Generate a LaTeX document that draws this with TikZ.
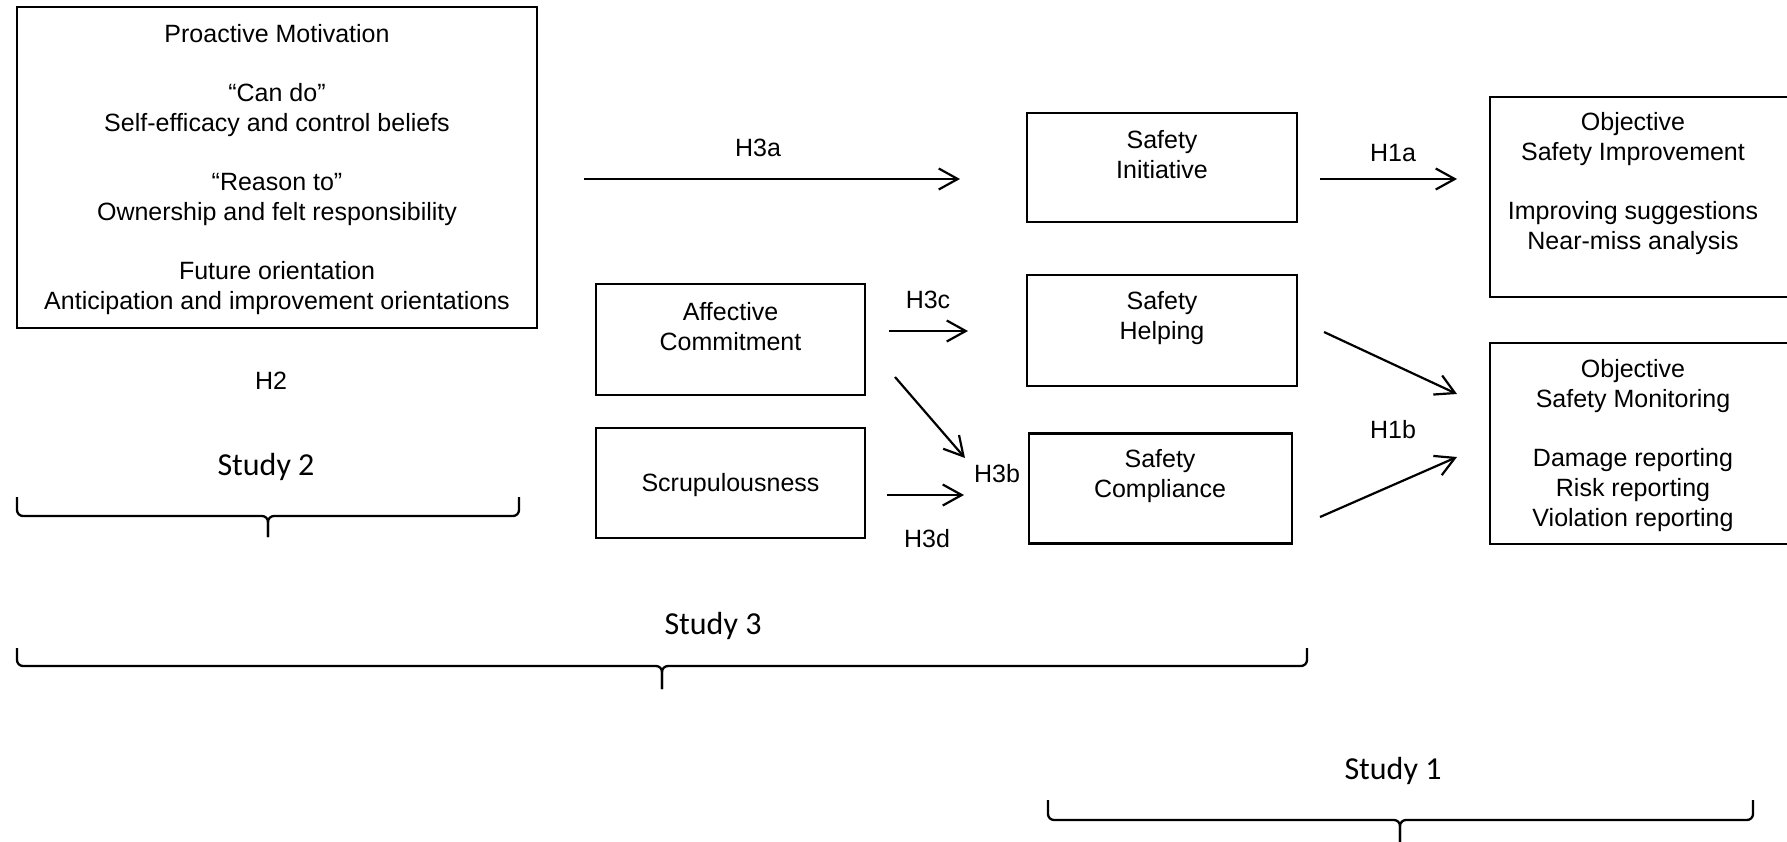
\documentclass[tikz,border=0pt]{standalone}
\usepackage{fontspec}
\setmainfont{Liberation Sans}
\newfontfamily\studyfont{Carlito}
\usetikzlibrary{arrows.meta}
\begin{document}
\begin{tikzpicture}[x=0.5pt,y=-0.5pt,
  box/.style={draw,line width=1.15pt,inner sep=0pt},
  txt/.style={align=center,inner sep=0pt,font=\fontsize{12.5}{15}\selectfont},
  lbl/.style={inner sep=0pt,font=\fontsize{12.5}{15}\selectfont},
  study/.style={inner sep=0pt,font=\studyfont\fontsize{16}{19}\selectfont},
  arr/.style={line width=1.1pt,-{Straight Barb[length=9.5pt,width=10.5pt,line width=1.1pt]}},
  brace/.style={line width=1.15pt,rounded corners=3pt}]
\clip (0,0) rectangle (1787,841);
% boxes
\node[box,minimum width=260pt,minimum height=160.5pt] (pm) at (277,167.5) {};
\node[box,minimum width=135pt,minimum height=54.5pt] (si) at (1162,167.5) {};
\node[box,minimum width=135pt,minimum height=55.5pt] (sh) at (1162,330.5) {};
\node[box,minimum width=131.5pt,minimum height=55pt] (sc) at (1160.5,488.5) {};
\node[box,minimum width=134.5pt,minimum height=55.5pt] (ac) at (730.5,339.5) {};
\node[box,minimum width=134.5pt,minimum height=55pt] (sq) at (730.5,483) {};
\node[box,minimum width=155pt,minimum height=100pt] (osi) at (1645,197) {};
\node[box,minimum width=155pt,minimum height=100.5pt] (osm) at (1645,443.5) {};
% texts
\node[txt] (pm-t) at (277,170) {Proactive Motivation\\[14.5pt]
  “Can do”\\ Self-efficacy and control beliefs\\[14.5pt]
  “Reason to”\\ Ownership and felt responsibility\\[14.5pt]
  Future orientation\\ Anticipation and improvement orientations};
\node[txt] (si-t) at (1162,155) {Safety\\ Initiative};
\node[txt] (sh-t) at (1162,318) {Safety\\ Helping};
\node[txt] (sc-t) at (1160,476) {Safety\\ Compliance};
\node[txt] (ac-t) at (730.5,327) {Affective\\ Commitment};
\node[txt] (sq-t) at (730.5,485) {Scrupulousness};
\node[txt] (osi-t) at (1633,184) {Objective\\ Safety Improvement\\[14.5pt]
  Improving suggestions\\ Near-miss analysis};
\node[txt] (osm-t) at (1633,445.5) {Objective\\ Safety Monitoring\\[14.5pt]
  Damage reporting\\ Risk reporting\\ Violation reporting};
% labels
\node[lbl] (h2) at (271,381) {H2};
\node[lbl] (h3a) at (758,148) {H3a};
\node[lbl] (h1a) at (1393,153) {H1a};
\node[lbl] (h3c) at (928,300) {H3c};
\node[lbl] (h3b) at (997,474) {H3b};
\node[lbl] (h3d) at (927,539) {H3d};
\node[lbl] (h1b) at (1393,430) {H1b};
% arrow end points
\coordinate (a1s) at (584,179); \coordinate (a1e) at (960,179);
\coordinate (a2s) at (1320,179); \coordinate (a2e) at (1457,179);
\coordinate (a3s) at (889,331); \coordinate (a3e) at (968,331);
\coordinate (a4s) at (895,377); \coordinate (a4e) at (965,458);
\coordinate (a5s) at (887,495); \coordinate (a5e) at (964,495);
\coordinate (a6s) at (1324,332); \coordinate (a6e) at (1457,394);
\coordinate (a7s) at (1320,517); \coordinate (a7e) at (1457,457);
\draw[arr] (a1s) -- (a1e);
\draw[arr] (a2s) -- (a2e);
\draw[arr] (a3s) -- (a3e);
\draw[arr] (a4s) -- (a4e);
\draw[arr] (a5s) -- (a5e);
\draw[arr] (a6s) -- (a6e);
\draw[arr] (a7s) -- (a7e);
% studies and braces
\node[study] (s2) at (266,467) {Study 2};
\node[study] (s3) at (713,626) {Study 3};
\node[study] (s1) at (1393,771) {Study 1};
\coordinate (b2l) at (17,497); \coordinate (b2r) at (519,497);
\coordinate (b2m) at (268,516); \coordinate (b2t) at (268,537);
\draw[brace] (b2l) |- (b2m) -- (b2t);
\draw[brace] (b2r) |- (b2m) -- (b2t);
\coordinate (b3l) at (17,648); \coordinate (b3r) at (1307,648);
\coordinate (b3m) at (662,666); \coordinate (b3t) at (662,689);
\draw[brace] (b3l) |- (b3m) -- (b3t);
\draw[brace] (b3r) |- (b3m) -- (b3t);
\coordinate (b1l) at (1048,800); \coordinate (b1r) at (1753,800);
\coordinate (b1m) at (1400,820); \coordinate (b1t) at (1400,845);
\draw[brace] (b1l) |- (b1m) -- (b1t);
\draw[brace] (b1r) |- (b1m) -- (b1t);
\end{tikzpicture}
\end{document}
